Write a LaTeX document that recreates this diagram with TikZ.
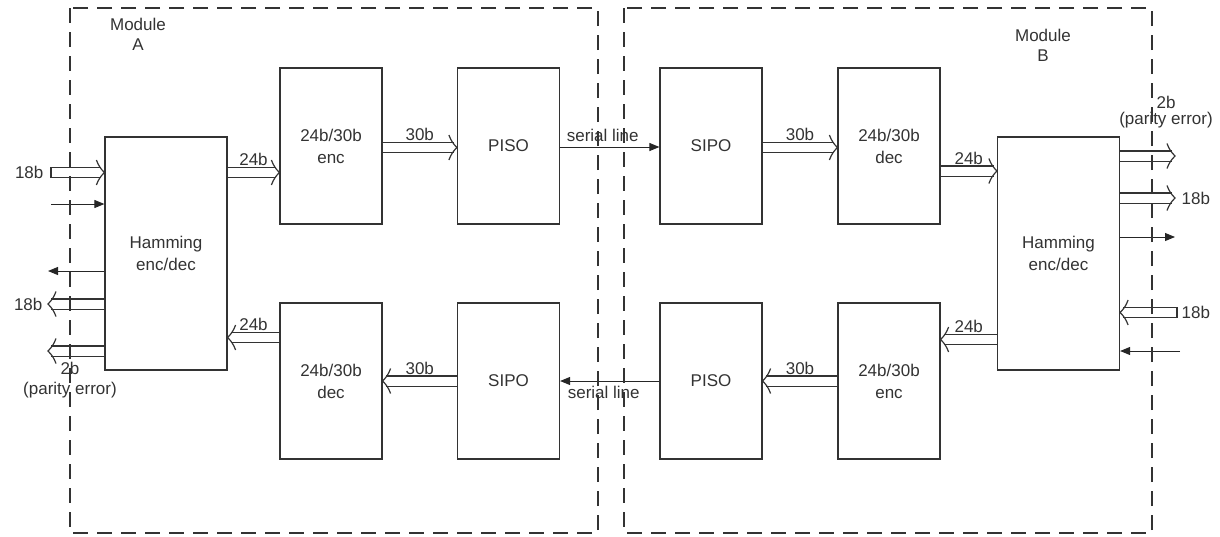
\documentclass[tikz,border=0pt]{standalone}
\usepackage{fontspec}
\setmainfont{Liberation Sans}
\usetikzlibrary{arrows.meta}

\tikzset{
  blk/.style={draw=black!80, line width=1.2pt, fill=white, text=black!80, align=center,
    font=\fontsize{17}{22}\selectfont, minimum width=102pt, minimum height=156pt},
  hamblk/.style={blk, minimum width=122pt, minimum height=233pt},
  bus/.style={draw=black!80, line width=1.2pt, double, double distance=9pt, shorten >=3pt},
  chevline/.style={draw=black!80, line width=1.2pt},
  sig/.style={draw=black!85, line width=1pt, -{Triangle[length=10pt,width=8pt]}},
  lbl/.style={text=black!80, font=\fontsize{17}{20}\selectfont, inner sep=2pt},
  module/.style={draw=black!80, line width=1.5pt, dash pattern=on 15pt off 9pt},
}
\newcommand{\chev}[2]{%
  \begin{scope}[shift={(#1)}, xscale=#2]
    \draw[chevline] (-8,12.5) to[bend left=12] (0,0) to[bend left=12] (-8,-12.5);
  \end{scope}}

\begin{document}
\begin{tikzpicture}[x=1pt,y=-1pt]
  \useasboundingbox (0,0) rectangle (1220,536);

  % blocks
  \node[hamblk] (hamA) at (166,253.5) {Hamming\\enc/dec};
  \node[blk] (encA) at (331,146) {24b/30b\\enc};
  \node[blk] (pisoA) at (508.5,146) {PISO};
  \node[blk] (decA) at (331,381) {24b/30b\\dec};
  \node[blk] (sipoA) at (508.5,381) {SIPO};
  \node[blk] (sipoB) at (711,146) {SIPO};
  \node[blk] (decB) at (889,146) {24b/30b\\dec};
  \node[hamblk] (hamB) at (1058.5,253.5) {Hamming\\enc/dec};
  \node[blk] (pisoB) at (711,381) {PISO};
  \node[blk] (encB) at (889,381) {24b/30b\\enc};

  % outer ends
  \coordinate (inA1) at (51,172.5);
  \coordinate (inA2) at (51,204);
  \coordinate (outA1) at (48,271);
  \coordinate (outA2) at (48,304);
  \coordinate (outA3) at (48,351);
  \coordinate (outB1) at (1175,156);
  \coordinate (outB2) at (1175,198);
  \coordinate (outB3) at (1175,237);
  \coordinate (inB1) at (1177,312.5);
  \coordinate (inB2) at (1180,351);

  % module A side
  \draw[bus] (inA1) node[lbl, left, xshift=-5pt] (l18a) {18b} -- (hamA.west |- inA1);
  \chev{hamA.west |- inA1}{1}
  \draw[chevline] ([yshift=-5.5pt]inA1) -- ([yshift=5.5pt]inA1);
  \draw[sig] (inA2) -- (hamA.west |- inA2);
  \draw[sig] (hamA.west |- outA1) -- (outA1);
  \draw[bus] (hamA.west |- outA2) -- (outA2) node[lbl, left, xshift=-3pt] (l18b) {18b};
  \chev{outA2}{-1}
  \draw[bus] (hamA.west |- outA3) -- (outA3);
  \chev{outA3}{-1}
  \node[lbl, align=center, anchor=north] (l2a) at (70,360) {2b\\(parity error)};

  \draw[bus] (hamA.east |- 0,172.5) -- (encA.west |- 0,172.5) node[lbl, midway, above=4pt] (l24a) {24b};
  \chev{encA.west |- 0,172.5}{1}
  \draw[bus] (encA.east |- 0,147.5) -- (pisoA.west |- 0,147.5) node[lbl, midway, above=4pt] (l30a) {30b};
  \chev{pisoA.west |- 0,147.5}{1}
  \draw[sig] (pisoA.east |- 0,147) -- (sipoB.west |- 0,147) node[lbl, midway, above=3pt, xshift=-7pt] (lsa) {serial line};
  \draw[bus] (decA.west |- 0,337.5) -- (hamA.east |- 0,337.5) node[lbl, midway, above=4pt] (l24b) {24b};
  \chev{hamA.east |- 0,337.5}{-1}
  \draw[bus] (sipoA.west |- 0,381) -- (decA.east |- 0,381) node[lbl, midway, above=4pt] (l30b) {30b};
  \chev{decA.east |- 0,381}{-1}
  \draw[sig] (pisoB.west |- 0,381) -- (sipoA.east |- 0,381) node[lbl, midway, below=3pt, xshift=-6pt] (lsb) {serial line};

  % module B side
  \draw[bus] (sipoB.east |- 0,147.5) -- (decB.west |- 0,147.5) node[lbl, midway, above=4pt] (l30c) {30b};
  \chev{decB.west |- 0,147.5}{1}
  \draw[bus] (decB.east |- 0,171) -- (hamB.west |- 0,171) node[lbl, midway, above=4pt] (l24c) {24b};
  \chev{hamB.west |- 0,171}{1}
  \draw[bus] (hamB.west |- 0,339.5) -- (encB.east |- 0,339.5) node[lbl, midway, above=4pt] (l24d) {24b};
  \chev{encB.east |- 0,339.5}{-1}
  \draw[bus] (encB.west |- 0,381) -- (pisoB.east |- 0,381) node[lbl, midway, above=4pt] (l30d) {30b};
  \chev{pisoB.east |- 0,381}{-1}

  \draw[bus] (hamB.east |- outB1) -- (outB1);
  \chev{outB1}{1}
  \node[lbl, align=center, anchor=south, font=\fontsize{17}{16}\selectfont] (l2b) at (1166,130) {2b\\(parity error)};
  \draw[bus] (hamB.east |- outB2) -- (outB2) node[lbl, right, xshift=4pt] (l18c) {18b};
  \chev{outB2}{1}
  \draw[sig] (hamB.east |- outB3) -- (outB3);
  \draw[bus] (inB1) node[lbl, right, xshift=2pt] (l18d) {18b} -- (hamB.east |- inB1);
  \chev{hamB.east |- inB1}{-1}
  \draw[chevline] ([yshift=-5.5pt]inB1) -- ([yshift=5.5pt]inB1);
  \draw[sig] (inB2) -- (hamB.east |- inB2);

  % modules
  \draw[module] (70,8) rectangle (598,533);
  \draw[module] (624,8) rectangle (1152,533);
  \node[lbl, align=center] (modA) at (138,34) {Module\\A};
  \node[lbl, align=center] (modB) at (1043,45) {Module\\B};
\end{tikzpicture}
\end{document}
